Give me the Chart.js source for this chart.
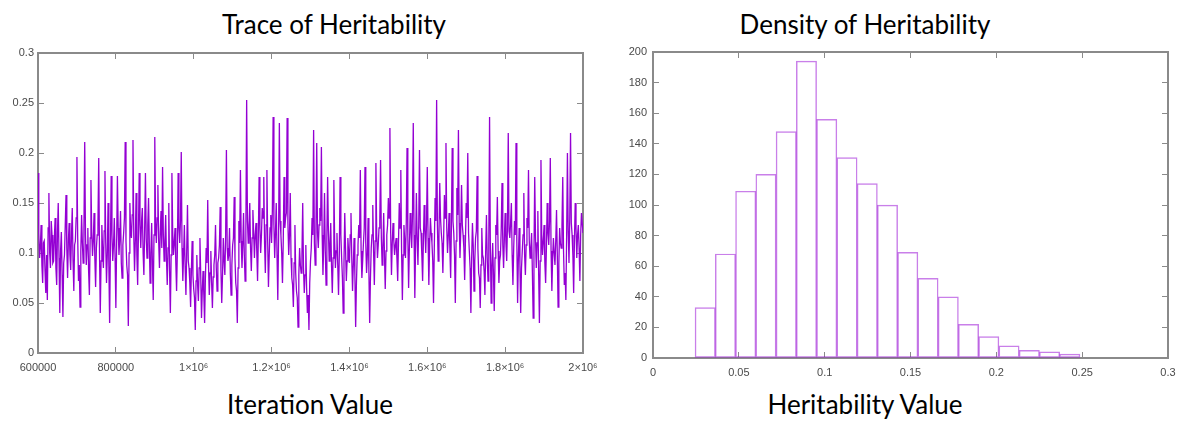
<!DOCTYPE html>
<html>
<head>
<meta charset="utf-8">
<script src="https://cdn.jsdelivr.net/npm/chart.js@4.4.0/dist/chart.umd.min.js"></script>
<style>
  body { margin: 0; background: #fff; width: 1189px; height: 430px; position: relative; overflow: hidden; font-family: Lato, sans-serif; }
  .title { position: absolute; font-size: 26px; color: #000; white-space: nowrap; transform: translateX(-50%); line-height: 1; }
  canvas { position: absolute; top: 0; }
</style>
</head>
<body>
<div class="title" style="left:334px; top:11px">Trace of Heritability</div>
<div class="title" style="left:865px; top:11px">Density of Heritability</div>
<div class="title" style="left:310px; top:391px">Iteration Value</div>
<div class="title" style="left:865px; top:391px">Heritability Value</div>
<canvas id="traceChart" width="600" height="380" style="left:0"></canvas>
<canvas id="densityChart" width="589" height="380" style="left:600px"></canvas>
<script>
// trace: iterations 600000 .. 2000000, one sample every 2000
const traceStart = 600000;
const traceStep = 2000;
const traceValues = [
  0.180, 0.120, 0.095, 0.105, 0.128, 0.088, 0.070, 0.110, 0.112, 0.082, 0.060, 0.098, 0.053, 0.125, 0.160, 0.100, 0.085, 0.132, 0.118, 0.090,
  0.092, 0.115, 0.135, 0.085, 0.068, 0.120, 0.150, 0.095, 0.040, 0.102, 0.121, 0.078, 0.036, 0.090, 0.098, 0.128, 0.158, 0.105, 0.075, 0.112,
  0.130, 0.098, 0.083, 0.118, 0.145, 0.092, 0.062, 0.108, 0.112, 0.135, 0.196, 0.115, 0.072, 0.088, 0.046, 0.102, 0.138, 0.110, 0.090, 0.125,
  0.211, 0.118, 0.088, 0.108, 0.125, 0.082, 0.058, 0.115, 0.173, 0.120, 0.097, 0.112, 0.140, 0.095, 0.066, 0.105, 0.118, 0.130, 0.195, 0.100,
  0.040, 0.092, 0.128, 0.102, 0.085, 0.122, 0.182, 0.110, 0.070, 0.098, 0.150, 0.088, 0.030, 0.105, 0.177, 0.118, 0.092, 0.108, 0.135, 0.095,
  0.045, 0.110, 0.177, 0.125, 0.098, 0.115, 0.142, 0.090, 0.075, 0.108, 0.120, 0.135, 0.211, 0.112, 0.088, 0.078, 0.027, 0.100, 0.150, 0.122,
  0.115, 0.138, 0.213, 0.118, 0.082, 0.112, 0.160, 0.098, 0.068, 0.120, 0.180, 0.128, 0.105, 0.132, 0.145, 0.100, 0.078, 0.125, 0.180, 0.115,
  0.095, 0.128, 0.155, 0.108, 0.070, 0.100, 0.130, 0.088, 0.053, 0.118, 0.216, 0.130, 0.110, 0.135, 0.168, 0.112, 0.085, 0.120, 0.142, 0.105,
  0.186, 0.118, 0.092, 0.112, 0.138, 0.095, 0.068, 0.105, 0.150, 0.082, 0.040, 0.098, 0.180, 0.122, 0.098, 0.110, 0.125, 0.090, 0.062, 0.102,
  0.180, 0.125, 0.110, 0.132, 0.201, 0.105, 0.072, 0.098, 0.128, 0.085, 0.058, 0.102, 0.148, 0.092, 0.085, 0.070, 0.046, 0.082, 0.112, 0.078,
  0.064, 0.055, 0.023, 0.072, 0.098, 0.068, 0.052, 0.085, 0.115, 0.078, 0.035, 0.062, 0.082, 0.058, 0.030, 0.075, 0.105, 0.090, 0.153, 0.088,
  0.058, 0.080, 0.102, 0.070, 0.045, 0.076, 0.088, 0.098, 0.128, 0.085, 0.062, 0.090, 0.095, 0.108, 0.146, 0.082, 0.050, 0.078, 0.115, 0.092,
  0.078, 0.118, 0.203, 0.105, 0.092, 0.098, 0.125, 0.080, 0.058, 0.088, 0.108, 0.115, 0.156, 0.095, 0.070, 0.062, 0.030, 0.085, 0.132, 0.110,
  0.183, 0.112, 0.085, 0.108, 0.140, 0.098, 0.072, 0.125, 0.253, 0.132, 0.110, 0.128, 0.150, 0.105, 0.082, 0.115, 0.143, 0.120, 0.095, 0.118,
  0.130, 0.102, 0.072, 0.115, 0.176, 0.125, 0.100, 0.118, 0.145, 0.135, 0.176, 0.110, 0.080, 0.128, 0.183, 0.112, 0.066, 0.098, 0.125, 0.138,
  0.110, 0.142, 0.236, 0.128, 0.095, 0.120, 0.150, 0.098, 0.053, 0.115, 0.230, 0.132, 0.118, 0.100, 0.070, 0.112, 0.176, 0.125, 0.135, 0.140,
  0.235, 0.130, 0.098, 0.118, 0.160, 0.095, 0.075, 0.068, 0.046, 0.090, 0.128, 0.080, 0.062, 0.055, 0.026, 0.078, 0.105, 0.088, 0.080, 0.098,
  0.150, 0.085, 0.060, 0.078, 0.108, 0.065, 0.040, 0.058, 0.023, 0.070, 0.092, 0.105, 0.135, 0.118, 0.223, 0.110, 0.088, 0.125, 0.210, 0.120,
  0.105, 0.128, 0.145, 0.132, 0.206, 0.118, 0.078, 0.110, 0.160, 0.102, 0.068, 0.115, 0.176, 0.122, 0.092, 0.108, 0.130, 0.088, 0.060, 0.095,
  0.173, 0.112, 0.085, 0.102, 0.120, 0.088, 0.058, 0.098, 0.176, 0.118, 0.095, 0.075, 0.040, 0.090, 0.140, 0.105, 0.072, 0.092, 0.115, 0.100,
  0.090, 0.118, 0.140, 0.095, 0.062, 0.088, 0.115, 0.078, 0.026, 0.070, 0.098, 0.108, 0.128, 0.115, 0.183, 0.102, 0.075, 0.092, 0.110, 0.125,
  0.186, 0.110, 0.080, 0.098, 0.135, 0.082, 0.030, 0.075, 0.105, 0.118, 0.148, 0.102, 0.068, 0.112, 0.190, 0.120, 0.095, 0.108, 0.125, 0.132,
  0.193, 0.115, 0.088, 0.105, 0.140, 0.098, 0.064, 0.102, 0.118, 0.128, 0.155, 0.135, 0.225, 0.120, 0.078, 0.110, 0.130, 0.112, 0.098, 0.108,
  0.115, 0.095, 0.072, 0.110, 0.150, 0.125, 0.183, 0.102, 0.053, 0.098, 0.128, 0.112, 0.095, 0.130, 0.205, 0.118, 0.065, 0.105, 0.140, 0.122,
  0.105, 0.138, 0.230, 0.118, 0.055, 0.108, 0.160, 0.115, 0.088, 0.128, 0.203, 0.125, 0.120, 0.098, 0.072, 0.112, 0.148, 0.122, 0.100, 0.130,
  0.186, 0.115, 0.068, 0.108, 0.135, 0.120, 0.110, 0.092, 0.050, 0.105, 0.155, 0.132, 0.253, 0.128, 0.092, 0.118, 0.170, 0.135, 0.120, 0.110,
  0.080, 0.115, 0.158, 0.135, 0.210, 0.125, 0.100, 0.118, 0.140, 0.105, 0.075, 0.128, 0.205, 0.132, 0.120, 0.098, 0.050, 0.112, 0.165, 0.138,
  0.223, 0.130, 0.095, 0.122, 0.168, 0.128, 0.118, 0.105, 0.073, 0.112, 0.150, 0.135, 0.200, 0.120, 0.102, 0.085, 0.040, 0.095, 0.130, 0.108,
  0.062, 0.092, 0.115, 0.122, 0.177, 0.105, 0.080, 0.075, 0.045, 0.088, 0.125, 0.098, 0.095, 0.082, 0.058, 0.102, 0.138, 0.095, 0.072, 0.110,
  0.236, 0.105, 0.050, 0.088, 0.110, 0.078, 0.042, 0.095, 0.128, 0.118, 0.156, 0.102, 0.070, 0.092, 0.098, 0.125, 0.170, 0.108, 0.085, 0.115,
  0.140, 0.110, 0.092, 0.128, 0.220, 0.122, 0.115, 0.130, 0.150, 0.098, 0.068, 0.105, 0.132, 0.118, 0.210, 0.112, 0.050, 0.095, 0.125, 0.088,
  0.040, 0.085, 0.102, 0.118, 0.160, 0.098, 0.078, 0.108, 0.135, 0.125, 0.183, 0.112, 0.095, 0.105, 0.120, 0.080, 0.035, 0.098, 0.176, 0.115,
  0.085, 0.110, 0.142, 0.082, 0.030, 0.092, 0.193, 0.118, 0.098, 0.112, 0.128, 0.090, 0.070, 0.105, 0.150, 0.120, 0.108, 0.132, 0.195, 0.102,
  0.062, 0.095, 0.115, 0.100, 0.088, 0.112, 0.143, 0.098, 0.046, 0.090, 0.125, 0.110, 0.105, 0.128, 0.176, 0.102, 0.068, 0.080, 0.053, 0.118,
  0.200, 0.122, 0.090, 0.135, 0.220, 0.130, 0.118, 0.098, 0.060, 0.112, 0.150, 0.125, 0.095, 0.118, 0.128, 0.105, 0.072, 0.118, 0.140, 0.130,
  0.120
];
const traceXTicks = ['600000', '800000', '1×10⁶', '1.2×10⁶', '1.4×10⁶', '1.6×10⁶', '1.8×10⁶', '2×10⁶'];
const traceYTicks = ['0', '0.05', '0.1', '0.15', '0.2', '0.25', '0.3'];

// histogram of heritability
const binCenters = [0.0304, 0.0422, 0.0540, 0.0658, 0.0776, 0.0894, 0.1012, 0.1130, 0.1248, 0.1366,
                    0.1484, 0.1602, 0.1720, 0.1838, 0.1956, 0.2074, 0.2192, 0.2310, 0.2428];
const binCounts = [33, 68, 109, 120, 148, 194, 156, 131, 114, 100,
                   69, 52, 40, 22, 14, 8, 5, 4, 2.5];
const densityXTicks = ['0', '0.05', '0.1', '0.15', '0.2', '0.25', '0.3'];
const densityYTicks = ['0', '20', '40', '60', '80', '100', '120', '140', '160', '180', '200'];

const purple = '#9400d3';
const axisGray = '#8a8a8a';
const tickFont = { family: 'Liberation Sans', size: 11 };

// gnuplot style: box border, ticks pointing inwards on all four sides
function boxAxis(position, min, max, step, labels, fixedSize, padding) {
  const horizontal = position === 'top' || position === 'bottom';
  return {
    type: 'linear',
    position: position,
    min: min,
    max: max,
    offset: false,
    afterFit: scale => {
      if (horizontal) {
        scale.height = fixedSize;
        scale.paddingLeft = 0;
        scale.paddingRight = 0;
      } else {
        scale.width = fixedSize;
        scale.paddingTop = 0;
        scale.paddingBottom = 0;
      }
    },
    ticks: {
      display: labels !== null,
      stepSize: step,
      autoSkip: false,
      maxRotation: 0,
      padding: padding,
      color: '#4a4a4a',
      font: tickFont,
      callback: (v, i) => labels ? labels[i] : ''
    },
    grid: { drawOnChartArea: false, offset: false, tickLength: -6, color: axisGray, lineWidth: 1 },
    border: { display: true, color: axisGray, width: 2 }
  };
}

new Chart(document.getElementById('traceChart').getContext('2d'), {
  type: 'line',
  data: {
    datasets: [{
      data: traceValues.map((v, i) => ({ x: traceStart + i * traceStep, y: v })),
      borderColor: purple,
      borderWidth: 1.3,
      pointRadius: 0,
      tension: 0
    }]
  },
  options: {
    responsive: false,
    animation: false,
    layout: { padding: { top: 53, right: 17, bottom: 7, left: 0 } },
    plugins: { legend: { display: false }, tooltip: { enabled: false } },
    scales: {
      x: boxAxis('bottom', 600000, 2000000, 200000, traceXTicks, 20, 14),
      x2: boxAxis('top', 600000, 2000000, 200000, null, 0, 0),
      y: boxAxis('left', 0, 0.3, 0.05, traceYTicks, 38, 10),
      y2: boxAxis('right', 0, 0.3, 0.05, null, 0, 0)
    }
  }
});

new Chart(document.getElementById('densityChart').getContext('2d'), {
  type: 'bar',
  data: {
    datasets: [{
      data: binCenters.map((c, i) => ({ x: c, y: binCounts[i] })),
      backgroundColor: 'rgba(255,255,255,0)',
      borderColor: 'rgba(148,0,211,0.5)',
      borderWidth: 0.8,
      borderSkipped: false,
      barPercentage: 1,
      categoryPercentage: 1
    }]
  },
  options: {
    responsive: false,
    animation: false,
    layout: { padding: { top: 52, right: 21, bottom: 2, left: 0 } },
    plugins: { legend: { display: false }, tooltip: { enabled: false } },
    scales: {
      x: boxAxis('bottom', 0, 0.3, 0.05, densityXTicks, 20, 14),
      x2: boxAxis('top', 0, 0.3, 0.05, null, 0, 0),
      y: boxAxis('left', 0, 200, 20, densityYTicks, 53, 12),
      y2: boxAxis('right', 0, 200, 20, null, 0, 0)
    }
  }
});
</script>
</body>
</html>
